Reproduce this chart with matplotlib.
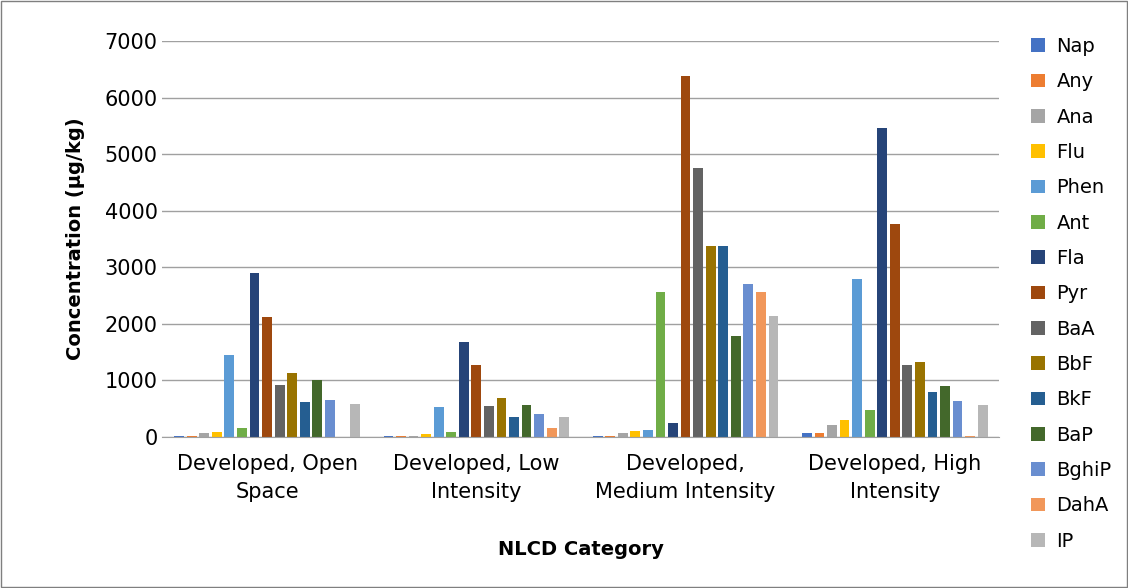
import numpy as np
import matplotlib.pyplot as plt

categories = ['Developed, Open\nSpace', 'Developed, Low\nIntensity',
              'Developed,\nMedium Intensity', 'Developed, High\nIntensity']
compounds = ['Nap', 'Any', 'Ana', 'Flu', 'Phen', 'Ant', 'Fla', 'Pyr', 'BaA',
             'BbF', 'BkF', 'BaP', 'BghiP', 'DahA', 'IP']
open_space = [20, 20, 60, 90, 1440, 160, 2900, 2120, 920, 1130, 610, 1000, 650, 0, 590]
low_int = [20, 20, 20, 50, 520, 90, 1670, 1270, 550, 680, 360, 560, 410, 160, 360]
med_int = [20, 20, 70, 100, 120, 2570, 250, 6380, 4760, 3370, 3370, 1790, 2710, 2560, 2140]
high_int = [70, 70, 210, 290, 2800, 470, 5460, 3770, 1270, 1330, 800, 900, 640, 20, 570]
colors = ['#4472C4', '#ED7D31', '#A5A5A5', '#FFC000', '#5B9BD5', '#70AD47',
          '#264478', '#9E480E', '#636363', '#997300', '#255E91', '#43682B',
          '#698ED0', '#F1975A', '#B7B7B7']

data = np.array([open_space, low_int, med_int, high_int])

fig = plt.figure(figsize=(11.28, 5.88), dpi=100)
ax = fig.add_axes([0.144, 0.257, 0.742, 0.673])
x = np.arange(len(categories))
gw = 0.9
w = gw / len(compounds)
for i, c in enumerate(compounds):
    ax.bar(x - gw / 2 + w * (i + 0.5), data[:, i], w * 0.78, color=colors[i], label=c)

ax.set_ylim(0, 7000)
ax.set_xlim(-0.5, 3.5)
ax.set_yticks(range(0, 7001, 1000))
ax.set_xticks(x)
ax.set_xticklabels(categories, fontsize=15, linespacing=1.5)
ax.tick_params(axis='y', labelsize=15, length=0)
ax.tick_params(axis='x', length=0, pad=12)
ax.yaxis.grid(True, color='#A0A0A0', linewidth=1)
ax.set_axisbelow(True)
for s in ['top', 'right', 'left']:
    ax.spines[s].set_visible(False)
ax.spines['bottom'].set_color('#A0A0A0')
ax.set_ylabel('Concentration (µg/kg)', fontsize=14, fontweight='bold', labelpad=14)
ax.set_xlabel('NLCD Category', fontsize=14, fontweight='bold', labelpad=28)
ax.legend(loc='upper left', bbox_to_anchor=(1.017, 1.055), frameon=False,
          fontsize=14, handlelength=0.7, handleheight=0.7, labelspacing=0.84,
          handletextpad=0.6)
fig.patches.append(plt.Rectangle((0.001, 0.001), 0.998, 0.998, transform=fig.transFigure,
                                 fill=False, edgecolor='#7F7F7F', linewidth=1))
fig.savefig('out.png')
